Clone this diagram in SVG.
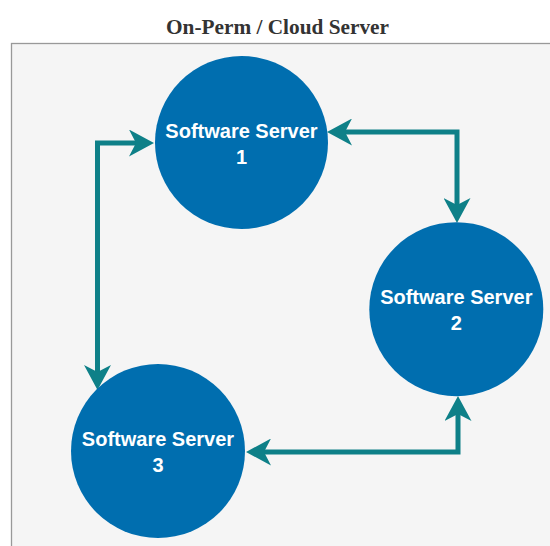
<svg xmlns="http://www.w3.org/2000/svg" width="550" height="546" viewBox="0 0 550 546">
  <style>
    .title { font-family: "Liberation Serif", "Times New Roman", serif; font-weight: bold; font-size: 21.3px; fill: #333333; }
    .frame { fill: #f5f5f5; stroke: #999999; stroke-width: 1.3; }
    .server { fill: #006eaf; }
    .label { font-family: "Liberation Sans", Arial, sans-serif; font-weight: bold; font-size: 20px; fill: #ffffff; text-anchor: middle; }
    .link { fill: none; stroke: #0e8088; stroke-width: 5; marker-start: url(#head); marker-end: url(#head); }
  </style>
  <defs>
    <marker id="head" viewBox="0 0 25 27" refX="7" refY="13.5" markerWidth="25" markerHeight="27" markerUnits="userSpaceOnUse" orient="auto-start-reverse">
      <path d="M0,0 L25,13.5 L0,27 L7,13.5 Z" fill="#0e8088"/>
    </marker>
  </defs>

  <rect width="550" height="546" fill="#ffffff"/>

  <g id="container">
    <rect class="frame" x="11.5" y="43.5" width="560" height="520"/>
    <text class="title" x="277.5" y="34" text-anchor="middle">On-Perm / Cloud Server</text>
  </g>

  <g id="connectors">
    <!-- server 1 <-> server 3 -->
    <path class="link" d="M136,143 L97.5,143 L97.5,372"/>
    <!-- server 1 <-> server 2 -->
    <path class="link" d="M345,132 L457,132 L457,205"/>
    <!-- server 3 <-> server 2 -->
    <path class="link" d="M264,452 L458,452 L458,414"/>
  </g>

  <g id="server1">
    <circle class="server" cx="241.5" cy="142.5" r="86.5"/>
    <text class="label" x="241.5" y="137.5">Software Server</text>
    <text class="label" x="241.5" y="163.5">1</text>
  </g>

  <g id="server2">
    <circle class="server" cx="456.3" cy="309.2" r="87"/>
    <text class="label" x="456.3" y="304.2">Software Server</text>
    <text class="label" x="456.3" y="330.2">2</text>
  </g>

  <g id="server3">
    <circle class="server" cx="158" cy="451" r="87"/>
    <text class="label" x="158" y="446">Software Server</text>
    <text class="label" x="158" y="472">3</text>
  </g>
</svg>
